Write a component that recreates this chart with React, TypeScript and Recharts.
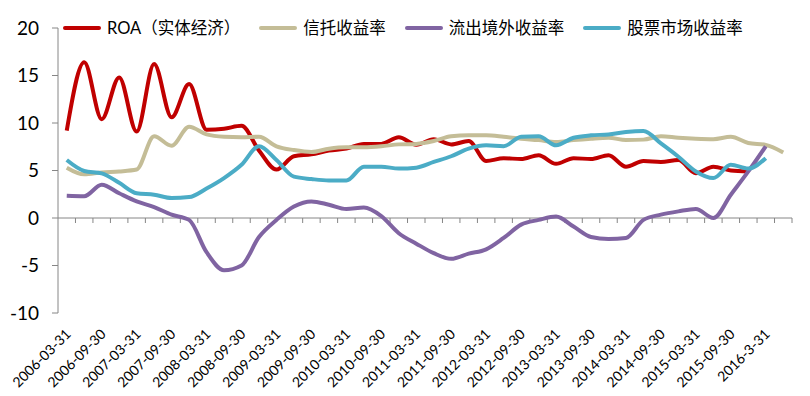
import { LineChart, Line, XAxis, YAxis, ReferenceLine } from "recharts";

const dates = [
  "2006-03-31", "2006-06-30", "2006-09-30", "2006-12-31",
  "2007-03-31", "2007-06-30", "2007-09-30", "2007-12-31",
  "2008-03-31", "2008-06-30", "2008-09-30", "2008-12-31",
  "2009-03-31", "2009-06-30", "2009-09-30", "2009-12-31",
  "2010-03-31", "2010-06-30", "2010-09-30", "2010-12-31",
  "2011-03-31", "2011-06-30", "2011-09-30", "2011-12-31",
  "2012-03-31", "2012-06-30", "2012-09-30", "2012-12-31",
  "2013-03-31", "2013-06-30", "2013-09-30", "2013-12-31",
  "2014-03-31", "2014-06-30", "2014-09-30", "2014-12-31",
  "2015-03-31", "2015-06-30", "2015-09-30", "2015-12-31",
  "2016-3-31", "2016-6-30",
];

// ROA（实体经济）
const roa = [
  9.2, 16.4, 10.4, 14.8, 9.1, 16.2, 10.6, 14.1, 9.3, 9.4,
  9.7, 7.1, 5.1, 6.5, 6.7, 7.1, 7.3, 7.8, 7.8, 8.5,
  7.7, 8.3, 7.75, 8.1, 6.0, 6.3, 6.2, 6.6, 5.7, 6.3,
  6.2, 6.6, 5.4, 6.0, 5.9, 6.1, 4.7, 5.4, 5.0, 4.9,
];

// 信托收益率
const trust = [
  5.3, 4.6, 4.8, 4.9, 5.1, 8.6, 7.6, 9.6, 8.8, 8.55,
  8.5, 8.55, 7.55, 7.15, 6.95, 7.3, 7.45, 7.45, 7.55, 7.75,
  7.8, 8.1, 8.6, 8.7, 8.7, 8.55, 8.35, 8.2, 8.0, 8.2,
  8.35, 8.45, 8.2, 8.25, 8.6, 8.45, 8.35, 8.3, 8.55, 7.9,
  7.7, 6.9,
];

// 流出境外收益率
const outflow = [
  2.35, 2.3, 3.5, 2.6, 1.75, 1.15, 0.35, -0.2, -3.6, -5.5,
  -5.0, -2.0, -0.2, 1.2, 1.75, 1.4, 0.95, 1.1, 0.2, -1.6,
  -2.7, -3.7, -4.3, -3.75, -3.3, -2.1, -0.7, -0.2, 0.15, -0.9,
  -2.0, -2.2, -2.1, -0.2, 0.35, 0.7, 0.95, 0.0, 2.45, 4.9,
  7.55,
];

// 股票市场收益率
const stock = [
  6.1, 4.95, 4.7, 3.7, 2.6, 2.45, 2.1, 2.2, 3.1, 4.2,
  5.6, 7.55, 6.1, 4.35, 4.1, 3.95, 3.95, 5.4, 5.4, 5.2,
  5.3, 5.9, 6.5, 7.3, 7.65, 7.55, 8.55, 8.6, 7.65, 8.45,
  8.7, 8.8, 9.05, 9.15, 7.85, 6.45, 4.9, 4.2, 5.6, 5.2,
  6.3,
];

const yTicks = [-10, -5, 0, 5, 10, 15, 20];

const series = [
  { key: "roa", name: "ROA（实体经济）", color: "#C00000", values: roa },
  { key: "trust", name: "信托收益率", color: "#C4BD97", values: trust },
  { key: "outflow", name: "流出境外收益率", color: "#8064A2", values: outflow },
  { key: "stock", name: "股票市场收益率", color: "#4BACC6", values: stock },
];

const data = dates.map((date, i) => {
  const row: Record<string, string | number | null> = { date };
  series.forEach((s) => {
    row[s.key] = i < s.values.length ? s.values[i] : null;
  });
  return row;
});

const AXIS = "#868686";
const FONT = "Lato, 'Noto Sans CJK SC', sans-serif";

function DateTick({ x, y, payload }: any) {
  return (
    <g transform={`translate(${x + 5},${y + 20})`}>
      <text
        textAnchor="end"
        transform="rotate(-45)"
        fontSize={14}
        fontFamily={FONT}
        fill="#000"
      >
        {payload.value}
      </text>
    </g>
  );
}

// zero line with Excel-style tick marks between categories
function ZeroAxis({ x1, y1, x2 }: any) {
  const step = (x2 - x1) / dates.length;
  const marks = [];
  for (let k = 1; k <= dates.length; k++) {
    const x = x1 + step * k;
    marks.push(<line key={k} x1={x} x2={x} y1={y1} y2={y1 + 5} stroke={AXIS} strokeWidth={1} />);
  }
  return (
    <g>
      <line x1={x1} x2={x2} y1={y1} y2={y1} stroke={AXIS} strokeWidth={1} />
      {marks}
    </g>
  );
}

function ChartLegend() {
  return (
    <div
      style={{
        position: "absolute",
        top: 16,
        left: 63,
        display: "flex",
        alignItems: "center",
        gap: 19,
        fontFamily: FONT,
        fontSize: 16.5,
        color: "#000",
        whiteSpace: "nowrap",
        lineHeight: "24px",
      }}
    >
      {series.map((s) => (
        <div key={s.key} style={{ display: "flex", alignItems: "center" }}>
          <span
            style={{
              display: "inline-block",
              width: 38,
              height: 4,
              borderRadius: 2,
              background: s.color,
              marginRight: 6,
            }}
          />
          <span>{s.name}</span>
        </div>
      ))}
    </div>
  );
}

export default function App() {
  return (
    <div style={{ position: "relative", width: 810, height: 396 }}>
      <style>{`body{margin:0}`}</style>
      <LineChart
        width={810}
        height={396}
        data={data}
        margin={{ top: 28, right: 18, bottom: 0, left: 8 }}
      >
        <XAxis
          dataKey="date"
          interval={1}
          tickLine={false}
          axisLine={false}
          height={83}
          tickSize={0}
          tick={<DateTick />}
          padding={{ left: 8.75, right: 8.75 }}
        />
        <YAxis
          domain={[-10, 20]}
          ticks={yTicks}
          width={50}
          tickSize={6}
          tickMargin={13}
          axisLine={{ stroke: AXIS }}
          tickLine={{ stroke: AXIS }}
          tick={{ fontSize: 19, fontFamily: FONT, fill: "#000" }}
          allowDataOverflow
        />
        <ReferenceLine y={0} shape={<ZeroAxis />} ifOverflow="visible" />
        {series.map((s) => (
          <Line
            key={s.key}
            dataKey={s.key}
            name={s.name}
            type="monotone"
            stroke={s.color}
            strokeWidth={4}
            dot={false}
            activeDot={false}
            isAnimationActive={false}
          />
        ))}
      </LineChart>
      <ChartLegend />
    </div>
  );
}
